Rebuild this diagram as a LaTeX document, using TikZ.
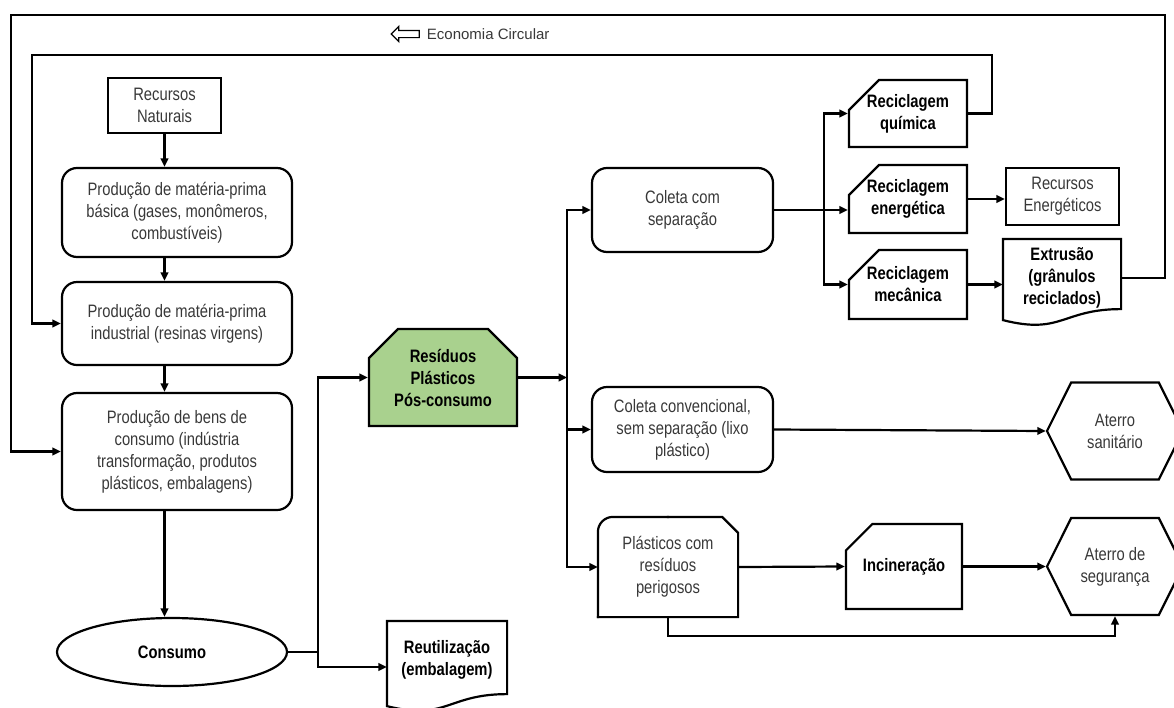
\documentclass[tikz,border=0pt]{standalone}
\usepackage{fontspec}
\setmainfont{Liberation Sans}[FakeStretch=0.82]
\newfontfamily\wideplain{Liberation Sans}
\usepackage{xcolor}
\usepackage{tikz}
\usetikzlibrary{shapes.misc, shapes.geometric, shapes.symbols, shapes.arrows, arrows.meta, calc, positioning}

\definecolor{txtgray}{HTML}{383838}
\definecolor{wastegreen}{HTML}{A9D18E}
\newcommand{\boxfont}{\fontsize{18}{22}\selectfont}

\begin{document}
\begin{tikzpicture}[
    x=1pt, y=-1pt,
    font=\boxfont,
    line width=2.2pt,
    >={Triangle[length=8.5pt,width=7.5pt]}
]
    % Frame (pixel grid, y downwards)
    \useasboundingbox (0,0) rectangle (1174,707);
    \clip (0,0) rectangle (1174,707);

    % Styles for blocks
    \tikzstyle{plainbox} = [draw, rectangle, align=center, text=txtgray, inner sep=0pt]
    \tikzstyle{roundbox} = [draw, rectangle, rounded corners=15pt, align=center, text=txtgray, inner sep=0pt]
    \tikzstyle{cardbox} = [draw, chamfered rectangle, chamfered rectangle corners=north west, chamfered rectangle xsep=16pt, chamfered rectangle ysep=14pt, align=center, font=\boxfont\bfseries, inner sep=0pt]
    \tikzstyle{recbox} = [cardbox, minimum width=118, minimum height=68]
    \tikzstyle{hexbox} = [draw, signal, signal to=west and east, signal pointer angle=127, align=center, text=txtgray, inner sep=0pt, minimum width=136, minimum height=97]
    \tikzstyle{docbox} = [rectangle, align=center, font=\boxfont\bfseries, inner sep=0pt]

    % Production chain (left)
    \node [plainbox, minimum width=113, minimum height=55] (RecNat) at (164.5,105.5) {Recursos\\Naturais};
    \node [roundbox, minimum width=230, minimum height=89] (ProdBasica) at (177,212.5) {Produção de matéria-prima\\básica (gases, monômeros,\\combustíveis)};
    \node [roundbox, minimum width=230, minimum height=83] (ProdIndustrial) at (177,323.5) {Produção de matéria-prima\\industrial (resinas virgens)};
    \node [roundbox, minimum width=230, minimum height=117] (ProdBens) at (177,451.5) {Produção de bens de\\consumo (indústria\\transformação, produtos\\plásticos, embalagens)};
    \node [draw, ellipse, minimum width=230, minimum height=68, inner sep=0pt, font=\boxfont\bfseries] (Consumo) at (172,652) {Consumo};
    \node [docbox, minimum width=118, minimum height=76] (Reutil) at (447,660) {Reutilização\\(embalagem)};

    % Post-consumer waste
    \node [draw, fill=wastegreen, chamfered rectangle, chamfered rectangle corners={north west, north east}, chamfered rectangle xsep=15pt, chamfered rectangle ysep=14pt, minimum width=148, minimum height=97, inner sep=0pt, align=center, font=\boxfont\bfseries] (Residuos) at (443,377.5) {Resíduos\\Plásticos\\Pós-consumo};

    % Collection routes
    \node [roundbox, minimum width=181, minimum height=84] (ColSep) at (682.5,210) {Coleta com\\separação};
    \node [roundbox, minimum width=181, minimum height=85] (ColConv) at (682.5,429.5) {Coleta convencional,\\sem separação (lixo\\plástico)};
    \node [rectangle, minimum width=138, minimum height=98, inner sep=0pt, align=center, text=txtgray] (PlastPer) at (668,567) {Plásticos com\\resíduos\\perigosos};

    % Recycling
    \node [recbox, minimum height=67] (RecQuim) at (908,113.5) {Reciclagem\\química};
    \node [recbox] (RecEner) at (908,199) {Reciclagem\\energética};
    \node [recbox, minimum height=69] (RecMec) at (908,284.5) {Reciclagem\\mecânica};
    \node [plainbox, minimum width=113, minimum height=57] (RecEnerg) at (1062.5,196.5) {Recursos\\Energéticos};
    \node [docbox, minimum width=116, minimum height=76] (Extrusao) at (1062,278) {Extrusão\\(grânulos\\reciclados)};

    % Disposal
    \node [cardbox, chamfered rectangle xsep=16pt, chamfered rectangle ysep=18pt, minimum width=116, minimum height=85] (Incin) at (904,566.5) {Incineração};
    \node [hexbox] (AtSan) at (1115,431) {Aterro\\sanitário};
    \node [hexbox] (AtSeg) at (1115,566.5) {Aterro de\\segurança};

    % Loop label
    \node [single arrow, draw, line width=1.2pt, shape border rotate=180, minimum height=28, minimum width=14, single arrow head extend=4pt, inner sep=3pt] (EcoArrow) at (407,34) {};
    \node [right=6pt of EcoArrow, inner sep=0pt, text=txtgray, font=\wideplain\fontsize{15}{18}\selectfont] (EcoLabel) {Economia Circular};

    % Outlines drawn by hand
    \draw [line cap=rect, rounded corners=15pt] (PlastPer.south west) -- (PlastPer.north west) -- (PlastPer.north);
    \draw [line cap=rect] (PlastPer.north) -- ([xshift=-16pt]PlastPer.north east) -- ([yshift=-16pt]PlastPer.north east) -- (PlastPer.south east) -- (PlastPer.south west);
    \draw (Extrusao.north west) -- (Extrusao.north east) -- ([yshift=8pt]Extrusao.south east)
        .. controls ([yshift=8pt]Extrusao.south) and ([yshift=-18pt]Extrusao.south) .. ([yshift=-3pt]Extrusao.south west) -- cycle;
    \draw (Reutil.north west) -- (Reutil.north east) -- ([yshift=5pt]Reutil.south east)
        .. controls ([yshift=5pt]Reutil.south) and ([yshift=-22pt]Reutil.south) .. ([yshift=-7pt]Reutil.south west) -- cycle;

    % Connections

    % 1. Production chain
    \draw [->] (RecNat.south) -- (RecNat.south |- ProdBasica.north);
    \draw [->] (RecNat.south |- ProdBasica.south) -- (RecNat.south |- ProdIndustrial.north);
    \draw [->] (RecNat.south |- ProdIndustrial.south) -- (RecNat.south |- ProdBens.north);
    \draw [->] (RecNat.south |- ProdBens.south) -- (RecNat.south |- Consumo.north);

    % 2. Consumption -> waste / reuse
    \coordinate (ConsSplit) at ($(Consumo.east)+(30,0)$);
    \draw (Consumo.east) -- (ConsSplit);
    \draw [->] (ConsSplit) |- (Residuos.west);
    \draw [->] (ConsSplit) |- ([yshift=-7pt]Reutil.west);

    % 3. Waste -> collection
    \coordinate (WasteBus) at ($(Residuos.east)+(49,0)$);
    \draw [->] (Residuos.east) -- (WasteBus);
    \draw [->] (WasteBus) |- (ColSep.west);
    \draw [->] (WasteBus) |- (ColConv.west);
    \draw [->] (WasteBus) |- (PlastPer.west);

    % 4. Separate collection -> recycling
    \coordinate (SepBus) at ($(ColSep.east)+(50,0)$);
    \draw [->] (ColSep.east) -- (ColSep.east -| RecEner.west);
    \draw [->] (SepBus) |- (RecQuim.west);
    \draw [->] (SepBus) |- (RecMec.west);
    \draw [->] (RecEner.east) -- (RecEner.east -| RecEnerg.west);
    \draw [->] (RecMec.east) -- (RecMec.east -| Extrusao.west);

    % 5. Circular economy loops
    \coordinate (InnerTR) at (992,55);
    \coordinate (InnerTL) at (32,55);
    \draw [->] (RecQuim.east) -| (InnerTR) -- (InnerTL) |- (ProdIndustrial.west);
    \coordinate (OuterTR) at (1165,15);
    \coordinate (OuterTL) at (11,15);
    \draw [->, line width=2.8pt] (Extrusao.east) -| (OuterTR) -- (OuterTL) |- (ProdBens.west);

    % 6. Disposal
    \draw [->] (ColConv.east) -- (AtSan.west);
    \draw [->] (PlastPer.east) -- (Incin.west);
    \draw [->] (Incin.east) -- (AtSeg.west);
    \draw [->] (PlastPer.south) -- ++(0,19) -| (AtSeg.south);

\end{tikzpicture}
\end{document}
